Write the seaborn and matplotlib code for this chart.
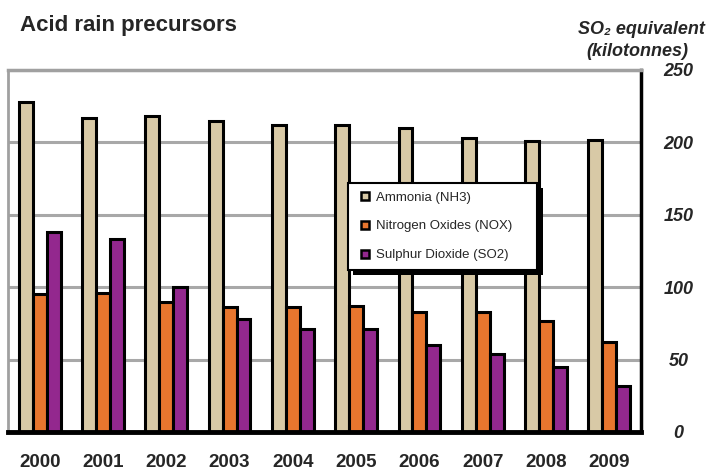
import matplotlib
matplotlib.use("Agg")
import matplotlib.pyplot as plt
import matplotlib.patheffects as pe
from matplotlib.lines import Line2D
import seaborn as sns
import pandas as pd

years = ["2000", "2001", "2002", "2003", "2004", "2005", "2006", "2007", "2008", "2009"]
ammonia = [228, 217, 218, 215, 212, 212, 210, 203, 201, 202]
nox = [95, 96, 90, 86, 86, 87, 83, 83, 77, 62]
so2 = [138, 133, 100, 78, 71, 71, 60, 54, 45, 32]
series = ["Ammonia (NH3)", "Nitrogen Oxides (NOX)", "Sulphur Dioxide (SO2)"]
colores = ["#D8C9A6", "#E8762E", "#93288E"]

df = pd.DataFrame({
    "ano": years * 3,
    "valor": ammonia + nox + so2,
    "serie": [s for s in series for _ in years],
})

sns.set_style("white")
plt.rcParams["font.family"] = ["Liberation Sans", "DejaVu Sans"]

fig = plt.figure(figsize=(7.06, 4.74), dpi=100)
ax = fig.add_axes([8 / 706, 42 / 474, 633 / 706, 362 / 474])

sns.barplot(data=df, x="ano", y="valor", hue="serie", palette=colores, saturation=1,
            width=0.66, edgecolor="black", linewidth=2.2, ax=ax, legend=False)

ax.set_ylim(0, 250)
ax.set_xlim(-0.5, 9.5)
ax.set_yticks([0, 50, 100, 150, 200, 250])
ax.yaxis.tick_right()
ax.yaxis.grid(True, color="#A8A8A8", linewidth=2.2)
ax.set_axisbelow(True)
ax.tick_params(axis="y", length=0, pad=27)
ax.tick_params(axis="x", length=0, pad=16)
for lbl in ax.get_yticklabels():
    lbl.set_fontweight("bold")
    lbl.set_fontstyle("italic")
    lbl.set_fontsize(13)
    lbl.set_horizontalalignment("center")
for lbl in ax.get_xticklabels():
    lbl.set_fontweight("bold")
    lbl.set_fontsize(13.5)
ax.set_xlabel("")
ax.set_ylabel("")

ax.spines["left"].set_color("#A0A0A0")
ax.spines["left"].set_linewidth(2)
ax.spines["top"].set_color("#A0A0A0")
ax.spines["top"].set_linewidth(2.5)
ax.spines["right"].set_color("black")
ax.spines["right"].set_linewidth(2.5)
ax.spines["bottom"].set_color("black")
ax.spines["bottom"].set_linewidth(3.5)

# legenda com quadradinhos e sombra preta
handles = [Line2D([], [], marker="s", linestyle="none", markersize=6,
                  markerfacecolor=c, markeredgecolor="black", markeredgewidth=1.8)
           for c in colores]
leg = ax.legend(handles, series, loc="upper left",
                bbox_to_anchor=(0.537, 0.45, 0.299, 0.238), mode="expand",
                borderaxespad=0, frameon=True, fancybox=False,
                edgecolor="black", fontsize=9.5, labelspacing=1.25,
                handletextpad=0.2, borderpad=0.65, handlelength=1.3)
frame = leg.get_frame()
frame.set_linewidth(1.5)
frame.set_alpha(1)
frame.set_path_effects([pe.SimplePatchShadow(offset=(4, -4), shadow_rgbFace="black", alpha=1),
                        pe.Normal()])

fig.text(20 / 706, 1 - 25 / 474, "Acid rain precursors", fontsize=16,
         fontweight="bold", va="center", ha="left")
fig.text(705 / 706, 1 - 29 / 474, "SO\u2082 equivalent", fontsize=13,
         fontweight="bold", fontstyle="italic", va="center", ha="right")
fig.text(688 / 706, 1 - 51 / 474, "(kilotonnes)", fontsize=13,
         fontweight="bold", fontstyle="italic", va="center", ha="right")

plt.savefig("out.png", dpi=100)
plt.close()
